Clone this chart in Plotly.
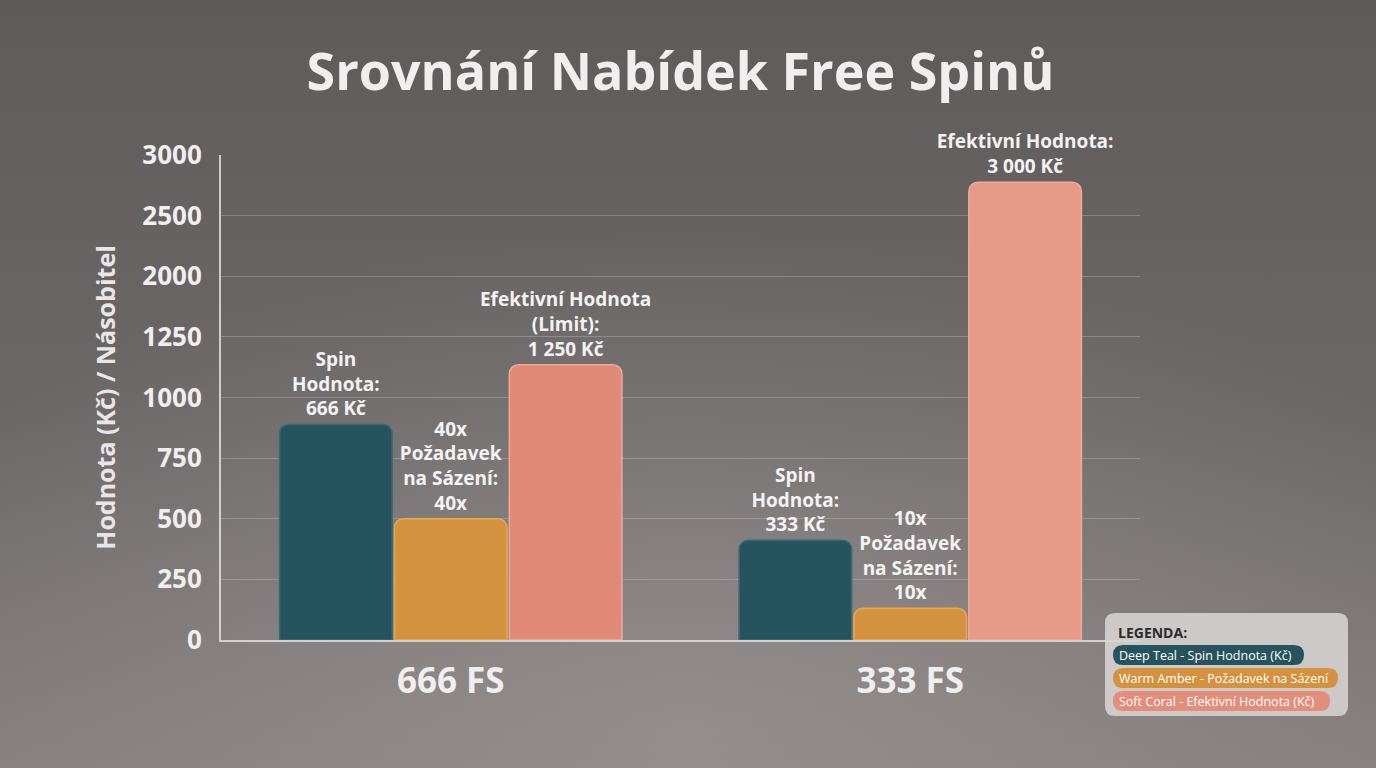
import base64
import numpy as np
import plotly.graph_objects as go

# ---------------- data ----------------
categories = ["666 FS", "333 FS"]
series_names = [
    "Deep Teal - Spin Hodnota (Kč)",
    "Warm Amber - Požadavek na Sázení",
    "Soft Coral - Efektivní Hodnota (Kč)",
]
teal_values = [889, 411]
amber_values = [500, 131]
coral_values = [1135, 2776]
teal_labels = ["Spin<br>Hodnota:<br>666 Kč", "Spin<br>Hodnota:<br>333 Kč"]
amber_labels = ["40x<br>Požadavek<br>na Sázení:<br>40x", "10x<br>Požadavek<br>na Sázení:<br>10x"]
coral_labels = ["Efektivní Hodnota<br>(Limit):<br>1 250 Kč", "Efektivní Hodnota:<br>3 000 Kč"]
tick_values = [0, 250, 500, 750, 1000, 1250, 2000, 2500, 3000]
tick_labels = ["0", "250", "500", "750", "1000", "1250", "2000", "2500", "3000"]
title_text = "Srovnání Nabídek Free Spinů"
y_title = "Hodnota (Kč) / Násobitel"
legend_title = "LEGENDA:"

# ---------------- style ----------------
W, H = 1376, 768
ML, MR, MT, MB = 221, 236, 155, 128
PW, PH = W - ML - MR, H - MT - MB
FONT = "Open Sans"
TEAL, AMBER, CORAL = "#26545e", "#d5923e", "#e38d7b"
coral_colors = ["#e08a77", "#e79a88"]

tick_pos = list(range(len(tick_values)))


def axis_pos(vals):
    # the drawn axis has equally spaced tick labels; map values onto it
    return np.interp(vals, tick_values, tick_pos)


def px_x(x):
    return (x - ML) / PW


def px_y(y):
    return (H - MB - y) / PH


fig = go.Figure()
for name, vals, labels, color, line in [
    (series_names[0], teal_values, teal_labels, TEAL, "#386a74"),
    (series_names[1], amber_values, amber_labels, AMBER, "#e4a85c"),
    (series_names[2], coral_values, coral_labels, coral_colors, "#efaa9a"),
]:
    fig.add_trace(go.Bar(
        x=categories, y=axis_pos(vals), name=name,
        marker=dict(color=color, cornerradius=9, line=dict(color=line, width=1.5)),
        text=labels, textposition="outside", constraintext="none", cliponaxis=False,
        textfont=dict(family=FONT, size=19, color="#f4f2f2", weight="bold"),
        customdata=vals, hovertemplate="%{x}<br>%{customdata}<extra>" + name + "</extra>",
    ))

bg_svg = f'''<svg xmlns="http://www.w3.org/2000/svg" width="{W}" height="{H}" viewBox="0 0 {W} {H}">
<defs>
<linearGradient id="g" x1="0" y1="0" x2="0" y2="1">
<stop offset="0" stop-color="#5e5b5a"/>
<stop offset="0.55" stop-color="#6c6868"/>
<stop offset="1" stop-color="#837d7c"/>
</linearGradient>
<radialGradient id="r" cx="0.5" cy="0.95" r="0.65">
<stop offset="0" stop-color="#9d9796" stop-opacity="0.65"/>
<stop offset="1" stop-color="#9d9796" stop-opacity="0"/>
</radialGradient>
</defs>
<rect width="{W}" height="{H}" fill="url(#g)"/>
<rect width="{W}" height="{H}" fill="url(#r)"/>
</svg>'''
bg_uri = "data:image/svg+xml;base64," + base64.b64encode(bg_svg.encode()).decode()


def rounded_rect(x0, y0, x1, y1, r):
    X0, X1 = px_x(x0), px_x(x1)
    Y0, Y1 = px_y(y0), px_y(y1)  # Y0 top (larger), Y1 bottom
    rx, ry = r / PW, r / PH
    return (f"M {X0+rx},{Y0} L {X1-rx},{Y0} Q {X1},{Y0} {X1},{Y0-ry} "
            f"L {X1},{Y1+ry} Q {X1},{Y1} {X1-rx},{Y1} L {X0+rx},{Y1} "
            f"Q {X0},{Y1} {X0},{Y1+ry} L {X0},{Y0-ry} Q {X0},{Y0} {X0+rx},{Y0} Z")


shapes = [dict(type="path", xref="paper", yref="paper", path=rounded_rect(1105, 613, 1348, 716, 10),
               fillcolor="rgba(215,212,211,0.88)", line=dict(width=0), layer="above")]
pill_specs = [(series_names[0], TEAL, 655, 1304), (series_names[1], AMBER, 678, 1338), (series_names[2], CORAL, 701, 1330)]
for _, color, yc, xr in pill_specs:
    shapes.append(dict(type="path", xref="paper", yref="paper",
                       path=rounded_rect(1113, yc - 10, xr, yc + 10, 10),
                       fillcolor=color, line=dict(width=0), layer="above"))

annotations = [dict(text=legend_title, x=px_x(1116), y=px_y(632), xref="paper", yref="paper",
                    xanchor="left", yanchor="middle", showarrow=False,
                    font=dict(family=FONT, size=14, color="#2b2b2b", weight="bold"))]
for name, color, yc, xr in pill_specs:
    annotations.append(dict(text=name, x=px_x(1117), y=px_y(yc), xref="paper", yref="paper",
                            xanchor="left", yanchor="middle", showarrow=False,
                            font=dict(family=FONT, size=12.5, color="#ffffff")))

fig.update_layout(
    width=W, height=H,
    margin=dict(l=ML, r=MR, t=MT, b=MB),
    paper_bgcolor="#6a6666", plot_bgcolor="rgba(0,0,0,0)",
    images=[dict(source=bg_uri, xref="paper", yref="paper", x=px_x(0), y=px_y(0),
                 sizex=W / PW, sizey=H / PH, sizing="stretch", layer="below",
                 xanchor="left", yanchor="top")],
    title=dict(text=title_text, x=0.5, xref="paper", xanchor="center", y=1 - 72 / H, yanchor="middle",
               font=dict(family=FONT, size=52, color="#f0eeee", weight="bold")),
    barmode="group", bargap=0.25, bargroupgap=0.02,
    showlegend=False,
    xaxis=dict(showline=True, linecolor="rgba(225,222,222,0.85)", linewidth=2, showgrid=False,
               ticks="", ticklabelstandoff=9,
               tickfont=dict(family=FONT, size=35, color="#f0eeee", weight="bold")),
    yaxis=dict(range=[0, len(tick_values) - 1], tickvals=tick_pos, ticktext=tick_labels,
               showline=True, linecolor="rgba(225,222,222,0.85)", linewidth=2,
               showgrid=True, gridcolor="rgba(200,198,198,0.35)", gridwidth=1, zeroline=False,
               ticks="", ticklabelstandoff=12,
               tickfont=dict(family=FONT, size=26, color="#f0eeee", weight="bold"),
               title=dict(text=y_title, standoff=20,
                          font=dict(family=FONT, size=25, color="#e8e6e6", weight="bold"))),
    shapes=shapes, annotations=annotations,
)

fig.write_html("out.html", config={"displayModeBar": False},
               post_script="document.body.style.margin='0';document.body.style.overflow='hidden';")
